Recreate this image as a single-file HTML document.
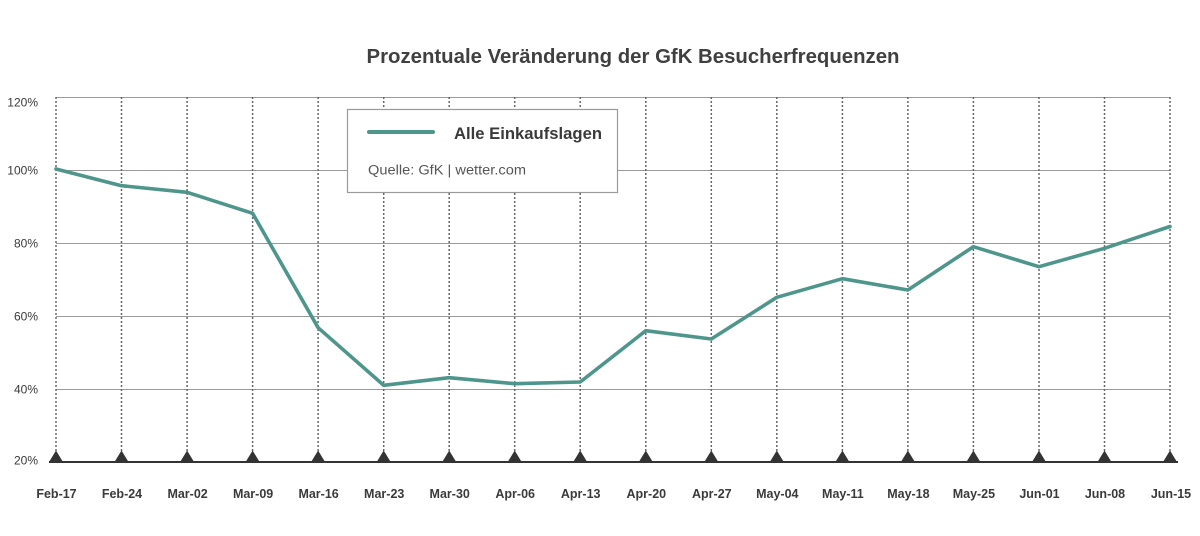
<!DOCTYPE html>
<html>
<head>
<meta charset="utf-8">
<style>
  html, body { margin:0; padding:0; background:#fff; }
  svg { display:block; }
  text { font-family: "Liberation Sans", "DejaVu Sans", sans-serif; }
</style>
</head>
<body>
<svg width="1200" height="536" viewBox="0 0 1200 536" xmlns="http://www.w3.org/2000/svg">
  <rect width="1200" height="536" fill="#fff"/>

  <!-- Title -->
  <text x="633" y="63" text-anchor="middle" font-size="20" font-weight="bold" fill="#404040" textLength="533" lengthAdjust="spacingAndGlyphs">Prozentuale Veränderung der GfK Besucherfrequenzen</text>

  <!-- Horizontal gridlines -->
  <g stroke="#9a9a9a" stroke-width="1">
    <line x1="56" y1="97.5" x2="1170" y2="97.5"/>
    <line x1="56" y1="170.5" x2="1170" y2="170.5"/>
    <line x1="56" y1="243.5" x2="1170" y2="243.5"/>
    <line x1="56" y1="316.5" x2="1170" y2="316.5"/>
    <line x1="56" y1="389.5" x2="1170" y2="389.5"/>
  </g>

  <!-- Vertical dotted gridlines -->
  <g stroke="#666" stroke-width="1.5" stroke-dasharray="2 2">
    <line x1="56" y1="97" x2="56" y2="462"/>
    <line x1="121.5" y1="97" x2="121.5" y2="462"/>
    <line x1="187.1" y1="97" x2="187.1" y2="462"/>
    <line x1="252.6" y1="97" x2="252.6" y2="462"/>
    <line x1="318.1" y1="97" x2="318.1" y2="462"/>
    <line x1="383.7" y1="97" x2="383.7" y2="462"/>
    <line x1="449.2" y1="97" x2="449.2" y2="462"/>
    <line x1="514.7" y1="97" x2="514.7" y2="462"/>
    <line x1="580.2" y1="97" x2="580.2" y2="462"/>
    <line x1="645.8" y1="97" x2="645.8" y2="462"/>
    <line x1="711.3" y1="97" x2="711.3" y2="462"/>
    <line x1="776.8" y1="97" x2="776.8" y2="462"/>
    <line x1="842.4" y1="97" x2="842.4" y2="462"/>
    <line x1="907.9" y1="97" x2="907.9" y2="462"/>
    <line x1="973.4" y1="97" x2="973.4" y2="462"/>
    <line x1="1039" y1="97" x2="1039" y2="462"/>
    <line x1="1104.5" y1="97" x2="1104.5" y2="462"/>
    <line x1="1170" y1="97" x2="1170" y2="462"/>
  </g>

  <!-- Y labels -->
  <g font-size="12" fill="#3a3a3a" text-anchor="end">
    <text x="38" y="106.5">120%</text>
    <text x="38" y="174.5">100%</text>
    <text x="38" y="247.5">80%</text>
    <text x="38" y="320.5">60%</text>
    <text x="38" y="393.5">40%</text>
    <text x="38" y="464.5">20%</text>
  </g>

  <!-- Series line -->
  <polyline fill="none" stroke="#4e968c" stroke-width="3.6" stroke-linejoin="round" stroke-linecap="round"
    points="56,169 121.5,185.7 187.1,192.3 252.6,213.3 318.1,327.7 383.7,385.3 449.2,377.7 514.7,383.7 580.2,382 645.8,330.7 711.3,339 776.8,297.3 842.4,278.7 907.9,290 973.4,246.7 1039,266.7 1104.5,248.3 1170,226.5"/>

  <!-- Baseline -->
  <line x1="49" y1="462" x2="1178" y2="462" stroke="#333" stroke-width="2"/>

  <!-- Triangles -->
  <g fill="#333">
    <polygon points="49,462 56,450.5 63,462"/>
    <polygon points="114.5,462 121.5,450.5 128.5,462"/>
    <polygon points="180.1,462 187.1,450.5 194.1,462"/>
    <polygon points="245.6,462 252.6,450.5 259.6,462"/>
    <polygon points="311.1,462 318.1,450.5 325.1,462"/>
    <polygon points="376.7,462 383.7,450.5 390.7,462"/>
    <polygon points="442.2,462 449.2,450.5 456.2,462"/>
    <polygon points="507.7,462 514.7,450.5 521.7,462"/>
    <polygon points="573.2,462 580.2,450.5 587.2,462"/>
    <polygon points="638.8,462 645.8,450.5 652.8,462"/>
    <polygon points="704.3,462 711.3,450.5 718.3,462"/>
    <polygon points="769.8,462 776.8,450.5 783.8,462"/>
    <polygon points="835.4,462 842.4,450.5 849.4,462"/>
    <polygon points="900.9,462 907.9,450.5 914.9,462"/>
    <polygon points="966.4,462 973.4,450.5 980.4,462"/>
    <polygon points="1032,462 1039,450.5 1046,462"/>
    <polygon points="1097.5,462 1104.5,450.5 1111.5,462"/>
    <polygon points="1163,462 1170,450.5 1177,462"/>
  </g>

  <!-- X labels -->
  <g font-size="12.5" font-weight="bold" fill="#3a3a3a" text-anchor="middle">
    <text x="56.5" y="498">Feb-17</text>
    <text x="122" y="498">Feb-24</text>
    <text x="187.6" y="498">Mar-02</text>
    <text x="253.1" y="498">Mar-09</text>
    <text x="318.6" y="498">Mar-16</text>
    <text x="384.2" y="498">Mar-23</text>
    <text x="449.7" y="498">Mar-30</text>
    <text x="515.2" y="498">Apr-06</text>
    <text x="580.7" y="498">Apr-13</text>
    <text x="646.3" y="498">Apr-20</text>
    <text x="711.8" y="498">Apr-27</text>
    <text x="777.3" y="498">May-04</text>
    <text x="842.9" y="498">May-11</text>
    <text x="908.4" y="498">May-18</text>
    <text x="973.9" y="498">May-25</text>
    <text x="1039.5" y="498">Jun-01</text>
    <text x="1105" y="498">Jun-08</text>
    <text x="1171" y="498">Jun-15</text>
  </g>

  <!-- Legend -->
  <rect x="347.5" y="109.5" width="270" height="83" fill="#fff" stroke="#9a9a9a" stroke-width="1.2"/>
  <line x1="369" y1="132" x2="433" y2="132" stroke="#4e968c" stroke-width="4" stroke-linecap="round"/>
  <text x="454" y="139" font-size="16.5" font-weight="bold" fill="#3a3a3a" textLength="148" lengthAdjust="spacingAndGlyphs">Alle Einkaufslagen</text>
  <text x="368" y="174.5" font-size="13.5" fill="#555" textLength="158" lengthAdjust="spacingAndGlyphs">Quelle: GfK | wetter.com</text>
</svg>
</body>
</html>
